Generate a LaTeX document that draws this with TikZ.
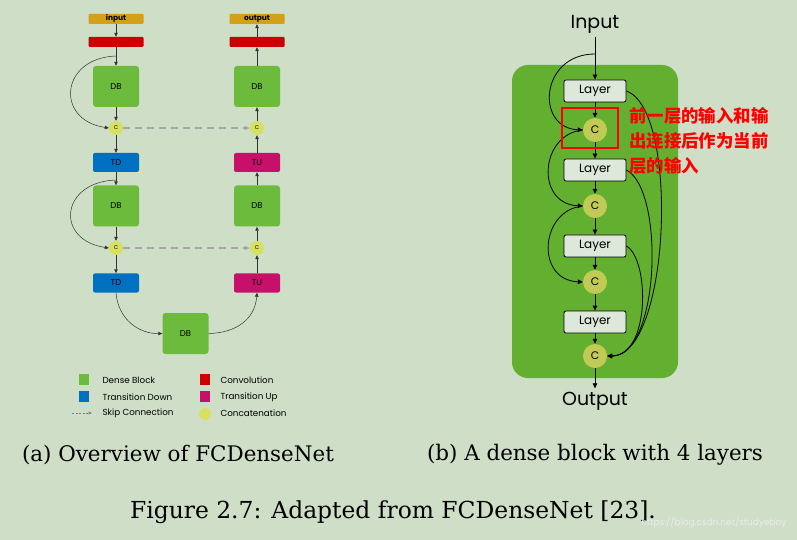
\documentclass[tikz,border=0pt]{standalone}
\usepackage{fontspec}
\newfontfamily\pop{Poppins}
\newfontfamily\cjk{Noto Sans CJK SC}
\newfontfamily\capf{DejaVu Serif}
\usetikzlibrary{arrows.meta}
\definecolor{bg}{RGB}{206,222,199}
\definecolor{dbg}{RGB}{109,187,60}
\definecolor{gold}{RGB}{212,160,23}
\definecolor{conv}{RGB}{204,0,0}
\definecolor{tdb}{RGB}{0,112,192}
\definecolor{tum}{RGB}{199,16,106}
\definecolor{cy}{RGB}{216,224,96}
\definecolor{blk}{RGB}{99,175,47}
\definecolor{lay}{RGB}{221,232,218}
\begin{document}
\begin{tikzpicture}[x=1bp,y=-1bp,
  db/.style={fill=dbg,rounded corners=3bp,minimum width=46bp,minimum height=41bp,inner sep=0pt,font=\pop\fontsize{8.5}{9}\selectfont},
  bar/.style={rounded corners=1bp,minimum width=55bp,minimum height=10bp,inner sep=0pt,font=\pop\bfseries\fontsize{7.5}{8}\selectfont},
  tr/.style={rounded corners=2bp,minimum width=46bp,minimum height=19bp,inner sep=0pt,font=\pop\fontsize{8.5}{9}\selectfont},
  cc/.style={circle,fill=cy,minimum size=14bp,inner sep=0pt,font=\pop\fontsize{5.5}{6}\selectfont},
  la/.style={-{Triangle[length=4bp,width=3.5bp]},black!80,line width=0.5bp},
  lay/.style={draw=black,fill=lay,rounded corners=2bp,minimum width=62bp,minimum height=22bp,inner sep=0pt,line width=0.8bp,font=\pop\fontsize{12}{13}\selectfont},
  bc/.style={circle,fill=cy!90!black,minimum size=24bp,inner sep=0pt,font=\pop\fontsize{11}{12}\selectfont},
  ra/.style={-{Triangle[length=5bp,width=4.5bp]},black,line width=0.8bp},
  leg/.style={anchor=west,font=\pop\fontsize{8.8}{9}\selectfont},
  io/.style={font=\pop\fontsize{19}{22}\selectfont},
  captxt/.style={font=\capf\fontsize{21.5}{25}\selectfont}]
\useasboundingbox (0,0) rectangle (797,540);
\fill[bg] (0,0) rectangle (797,540);
% left
\node[bar,fill=gold] (in) at (116,19) {input};
\node[bar,fill=conv] (cv1) at (116,42) {};
\node[db] (db1) at (116,86.5) {DB};
\node[cc] (c1) at (116,128) {C};
\node[tr,fill=tdb] (td1) at (116,162.5) {TD};
\node[db] (db2) at (116,206) {DB};
\node[cc] (c2) at (116,248) {C};
\node[tr,fill=tdb] (td2) at (116,283) {TD};
\node[db] (db3) at (185.5,333.5) {DB};
\node[bar,fill=gold] (out) at (257,19) {output};
\node[bar,fill=conv] (cv2) at (257,42) {};
\node[db] (db4) at (257,86.5) {DB};
\node[cc] (c3) at (257,128) {C};
\node[tr,fill=tum] (tu1) at (257,162.5) {TU};
\node[db] (db5) at (257,206) {DB};
\node[cc] (c4) at (257,248) {C};
\node[tr,fill=tum] (tu2) at (257,283) {TU};
\draw[la] (in) -- (cv1);
\draw[la] (cv1) -- (db1);
\draw[la] (db1) -- (c1);
\draw[la] (c1) -- (td1);
\draw[la] (td1) -- (db2);
\draw[la] (db2) -- (c2);
\draw[la] (c2) -- (td2);
\draw[la] (tu2) -- (c4);
\draw[la] (c4) -- (db5);
\draw[la] (db5) -- (tu1);
\draw[la] (tu1) -- (c3);
\draw[la] (c3) -- (db4);
\draw[la] (db4) -- (cv2);
\draw[la] (cv2) -- (out);
\coordinate (s1) at (116,56);
\coordinate (s2) at (116,180);
\draw[la] (s1) .. controls (60,58) and (55,120) .. (c1.west);
\draw[la] (s2) .. controls (60,182) and (55,240) .. (c2.west);
\draw[la] (td2.south) .. controls (118,320) and (140,334) .. (db3.west);
\draw[la] (db3.east) .. controls (235,333) and (255,320) .. (tu2.south);
\draw[gray!70,line width=1.2bp,dash pattern=on 7bp off 5bp,-{Triangle[length=5bp,width=4bp]}] (c1) -- (c3);
\draw[gray!70,line width=1.2bp,dash pattern=on 7bp off 5bp,-{Triangle[length=5bp,width=4bp]}] (c2) -- (c4);
% legend
\fill[dbg] (79,374) rectangle (89,385); \node[leg] at (99,380) {Dense Block};
\fill[tdb] (79,391) rectangle (89,402); \node[leg] at (99,397) {Transition Down};
\coordinate (k1) at (72,413); \coordinate (k2) at (92,413);
\draw[gray,line width=0.6bp,dash pattern=on 2bp off 1.5bp,-{Stealth[length=4bp]}] (k1) -- (k2);
\node[leg] at (99,413) {Skip Connection};
\fill[conv] (200,374) rectangle (210,385); \node[leg] at (217,380) {Convolution};
\fill[tum] (200,391) rectangle (210,402); \node[leg] at (217,397) {Transition Up};
\fill[cy] (205,414) circle (6); \node[leg] at (217,413) {Concatenation};
% right
\fill[blk] (512,65) [rounded corners=16bp] rectangle (678,378);
\node[io] (inp) at (595,24) {Input};
\node[io] (outp) at (595,401) {Output};
\node[lay] (l1) at (595,91) {Layer};
\node[bc] (b1) at (595,130) {C};
\node[lay] (l2) at (595,170) {Layer};
\node[bc] (b2) at (595,206) {C};
\node[lay] (l3) at (595,246) {Layer};
\node[bc] (b3) at (595,282) {C};
\node[lay] (l4) at (595,322) {Layer};
\node[bc] (b4) at (595,356) {C};
\draw[ra] (inp) -- (l1);
\draw[ra] (l1) -- (b1);
\draw[ra] (b1) -- (l2);
\draw[ra] (l2) -- (b2);
\draw[ra] (b2) -- (l3);
\draw[ra] (l3) -- (b3);
\draw[ra] (b3) -- (l4);
\draw[ra] (l4) -- (b4);
\draw[ra] (b4) -- (outp);
\coordinate (t1) at (595,54);
\draw[ra] (t1) .. controls (540,54) and (535,128) .. (b1.west);
\draw[ra] (b1.west) .. controls (540,134) and (535,204) .. (b2.west);
\draw[ra] (b2.west) .. controls (540,210) and (535,280) .. (b3.west);
\draw[ra] (l1.east) .. controls (680,110) and (670,356) .. (b4.east);
\draw[ra] (l2.east) .. controls (665,190) and (660,356) .. (b4.east);
\draw[ra] (l3.east) .. controls (650,260) and (650,356) .. (b4.east);
\draw[red,line width=1.2bp] (562,108) rectangle (618,148);
\node[anchor=north west,align=left,text=red,inner sep=0pt,font=\cjk\bfseries\fontsize{17.5}{25}\selectfont] at (629,107) {前一层的输入和输\\出连接后作为当前\\层的输入};
% captions
\node[captxt] at (178,455) {(a) Overview of FCDenseNet};
\node[captxt] at (595,455) {(b) A dense block with 4 layers};
\node[captxt,font=\capf\fontsize{23.5}{27}\selectfont] at (393,512) {Figure 2.7: Adapted from FCDenseNet [23].};
\node[anchor=east,text=white!85!gray,font=\fontsize{9}{10}\selectfont\pop] at (790,522) {https://blog.csdn.net/studyeboy};
\end{tikzpicture}
\end{document}
